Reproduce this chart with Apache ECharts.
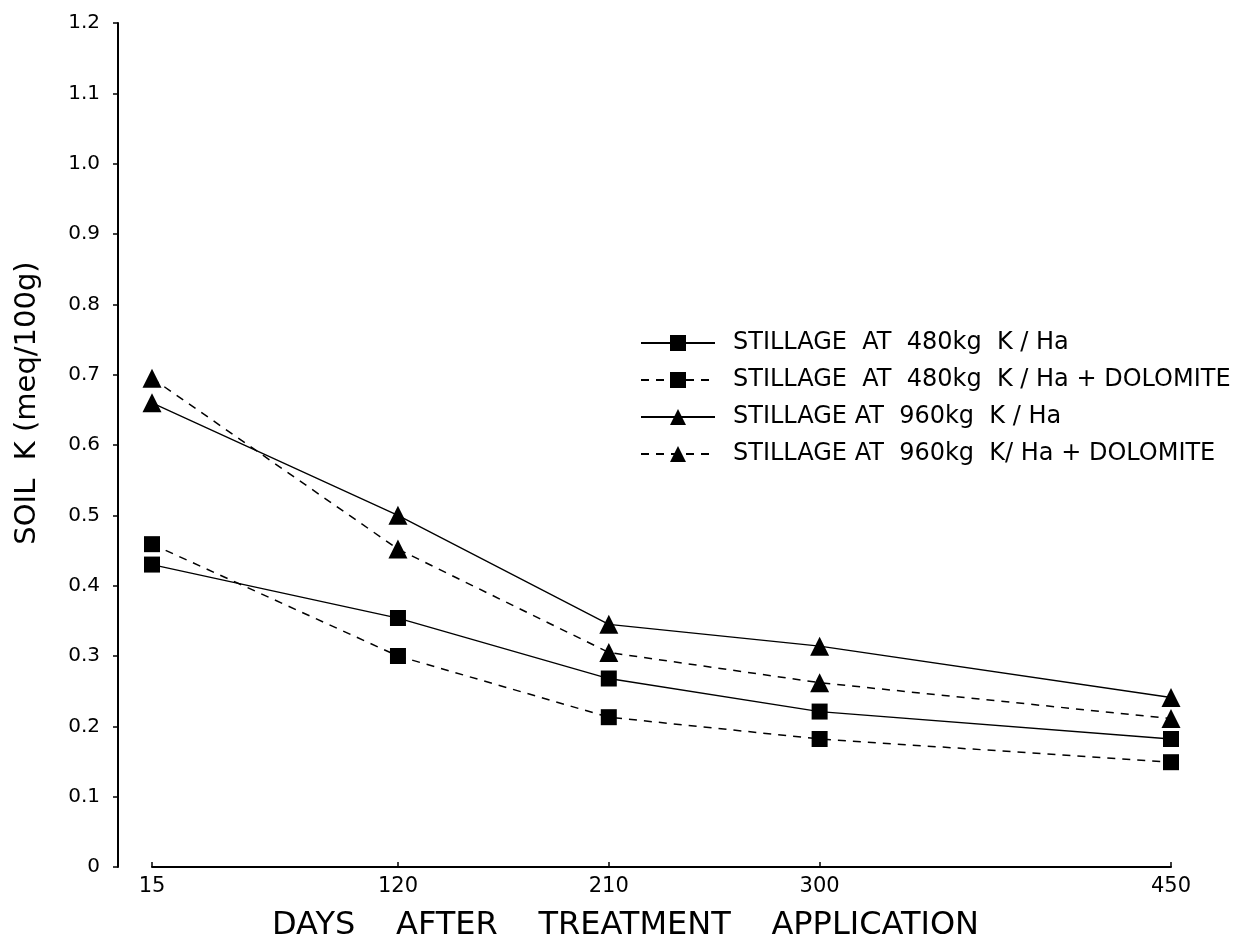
<!DOCTYPE html>
<html>
<head>
<meta charset="utf-8">
<script src="https://cdn.jsdelivr.net/npm/echarts@6/dist/echarts.min.js"></script>
<style>html,body{margin:0;padding:0;background:#fff}#c{width:1246px;height:948px}</style>
</head>
<body>
<div id="c"></div>
<script>
const days = [15, 120, 210, 300, 450];
const xTicks = [15, 120, 210, 300, 450];
const names = [
  'STILLAGE  AT  480kg  K / Ha',
  'STILLAGE  AT  480kg  K / Ha + DOLOMITE',
  'STILLAGE AT  960kg  K / Ha',
  'STILLAGE AT  960kg  K/ Ha + DOLOMITE'
];
const k480 = [0.43, 0.354, 0.268, 0.221, 0.182];
const k480dol = [0.459, 0.30, 0.213, 0.182, 0.149];
const k960 = [0.66, 0.50, 0.345, 0.314, 0.241];
const k960dol = [0.695, 0.452, 0.305, 0.262, 0.211];

const FONT = 'DejaVu Sans';
function pairs(v){ return days.map((d,i)=>[d, v[i]]); }
function mk(name, vals, sym, dashed, size){
  return {
    name: name, type: 'line', data: pairs(vals),
    symbol: sym, symbolSize: size,
    itemStyle: {color: '#000'},
    lineStyle: {color: '#000', width: dashed ? 1.5 : 1.3, type: dashed ? [8, 7] : 'solid'},
    emphasis: {disabled: true},
    z: 3
  };
}
const chart = echarts.init(document.getElementById('c'), null, {renderer: 'canvas'});
chart.setOption({
  backgroundColor: '#fff',
  animation: false,
  grid: {left: 152, right: 75, top: 23, bottom: 81, containLabel: false, outerBoundsMode: 'none'},
  legend: {
    left: 635, top: 326, orient: 'vertical',
    itemWidth: 74, itemHeight: 20, itemGap: 13,
    textStyle: {fontFamily: FONT, fontSize: 24, color: '#000', padding: [0, 0, 0, 13]},
    data: names
  },
  xAxis: {
    type: 'value', min: 15, max: 450,
    name: 'DAYS    AFTER    TREATMENT    APPLICATION',
    nameLocation: 'middle', nameGap: 43,
    nameTextStyle: {fontFamily: FONT, fontSize: 32, color: '#000', padding: [0, 72, 0, 0]},
    axisLine: {show: true, lineStyle: {color: '#000', width: 2}},
    axisTick: {show: true, inside: true, length: 5, customValues: xTicks, lineStyle: {color: '#000', width: 1.5}},
    axisLabel: {customValues: xTicks, margin: 9, fontFamily: FONT, fontSize: 21, color: '#000'},
    splitLine: {show: false}
  },
  yAxis: {
    type: 'value', min: 0, max: 1.2, interval: 0.1, offset: 34,
    name: 'SOIL  K (meq/100g)',
    nameLocation: 'middle', nameGap: 76, nameRotate: 90,
    nameTextStyle: {fontFamily: FONT, fontSize: 29, color: '#000', padding: [0, 0, 0, 84]},
    axisLine: {show: true, lineStyle: {color: '#000', width: 2}},
    axisTick: {show: true, inside: false, length: 5, lineStyle: {color: '#000', width: 1.5}},
    axisLabel: {margin: 18, fontFamily: FONT, fontSize: 20, color: '#000',
      formatter: v => (Math.abs(v) < 1e-9 ? '0' : v.toFixed(1))},
    splitLine: {show: false}
  },
  series: [
    mk(names[0], k480, 'rect', false, 16),
    mk(names[1], k480dol, 'rect', true, 16),
    mk(names[2], k960, 'triangle', false, 19),
    mk(names[3], k960dol, 'triangle', true, 19)
  ]
});
</script>
</body>
</html>
